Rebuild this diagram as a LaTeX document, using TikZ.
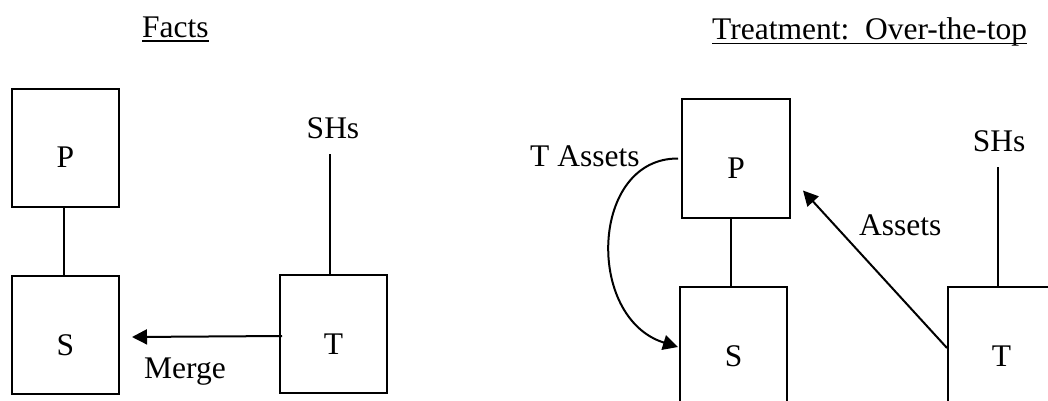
\documentclass[tikz,border=0pt]{standalone}
\usepackage{fontspec}
\setmainfont{Liberation Serif}
\usetikzlibrary{arrows.meta}
\begin{document}
\begin{tikzpicture}[x=1pt,y=-1pt,
  box/.style={draw,line width=2pt,minimum width=107pt,minimum height=118pt,inner sep=0pt,text height=40pt,text depth=0pt},
  lbl/.style={inner sep=0pt,anchor=base west},
  sh/.style={inner sep=0pt,anchor=base},
  conn/.style={line width=2pt},
  arr/.style={line width=2pt,-{Triangle[length=15pt,width=15pt]}},
  ul/.style={line width=1.6pt},
  font=\fontsize{31.5}{36}\selectfont]
\useasboundingbox (0,0) rectangle (1048,400);
\clip (0,0) rectangle (1048,400);
% ---------- Facts ----------
\node[lbl] (F) at (142,37) {Facts};
\draw[ul] ([yshift=-4pt]F.base west) -- ([yshift=-4pt]F.base east);
\node[box] (P1) at (65.5,147.5) {P};
\node[box] (S1) at (65.5,335) {S};
\node[box] (T1) at (333.5,334) {T};
\node[sh] (SH1) at (333,138) {SHs};
\node[lbl] (M) at (144,378) {Merge};
\draw[conn] ([xshift=-2pt]P1.south) -- ([xshift=-2pt]S1.north);
\coordinate (sh1) at (330,154);
\draw[conn] (sh1) -- (sh1 |- T1.north);
\draw[arr] ([xshift=3pt,yshift=-2pt]T1.west) -- ([xshift=12pt,yshift=-2pt]S1.east);
% ---------- Treatment ----------
\node[lbl] (TT) at (712,39.5) {Treatment:\ \ Over-the-top};
\draw[ul] ([yshift=-4pt]TT.base west) -- ([yshift=-4pt]TT.base east);
\node[box,minimum width=108pt,minimum height=119pt] (P2) at (736,158.5) {P};
\node[box] (S2) at (733.5,346) {S};
\node[box] (T2) at (1001.5,346) {T};
\node[sh] (SH2) at (999,151) {SHs};
\node[lbl] (A) at (859,235) {Assets};
\node[lbl] (TA) at (530,166) {T Assets};
\draw[conn] ([xshift=-5pt]P2.south) -- ([xshift=-5pt]P2.south |- S2.north);
\coordinate (sh2) at (998,167);
\draw[conn] (sh2) -- (sh2 |- T2.north);
\draw[arr] ([yshift=-2pt]T2.west) -- ([xshift=12pt,yshift=-32pt]P2.east);
\draw[arr] ([xshift=-3pt]P2.west) .. controls (590,158) and (585,318) .. ([xshift=-1pt,yshift=-1pt]S2.west);
\end{tikzpicture}
\end{document}
